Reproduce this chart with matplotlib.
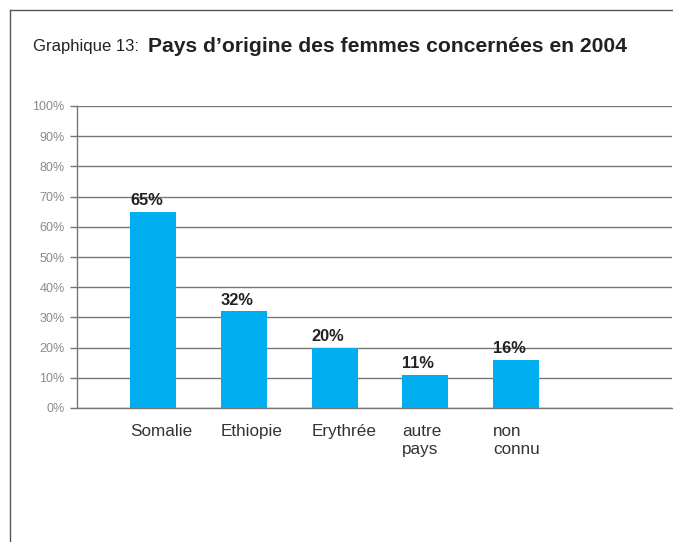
import matplotlib.pyplot as plt
from matplotlib.lines import Line2D
from matplotlib.ticker import MultipleLocator, PercentFormatter

countries = ["Somalie", "Ethiopie", "Erythrée", "autre\npays", "non\nconnu"]
shares = [65, 32, 20, 11, 16]

W, H = 673, 542
plt.rcParams['font.family'] = ['Liberation Sans', 'DejaVu Sans']

fig = plt.figure(figsize=(W / 100, H / 100), dpi=100)

# page frame: top and left rules
fig.add_artist(Line2D([10 / W, 1], [1 - 10 / H, 1 - 10 / H], color="#555555", lw=1))
fig.add_artist(Line2D([10 / W, 10 / W], [0, 1 - 10 / H], color="#555555", lw=1))

fig.text(33 / W, 1 - 47 / H, "Graphique 13:", fontsize=12, color="#222222",
         va="center", ha="left")
fig.text(148 / W, 1 - 47 / H, "Pays d’origine des femmes concernées en 2004",
         fontsize=15.2, fontweight="bold", color="#222222", va="center", ha="left")

ax = fig.add_axes([77 / W, (H - 408) / H, (672 - 77) / W, (408 - 106) / H])
x = range(len(countries))
width = 0.507
bars = ax.bar(x, shares, width=width, color="#00AEEF", zorder=3)

ax.set_xlim(-0.84, 5.72)
ax.set_ylim(0, 100)
ax.yaxis.set_major_locator(MultipleLocator(10))
ax.yaxis.set_major_formatter(PercentFormatter(decimals=0))
ax.grid(axis="y", color="#777777", lw=1, zorder=0)
ax.set_axisbelow(True)

for s in ("top", "right"):
    ax.spines[s].set_visible(False)
for s in ("left", "bottom"):
    ax.spines[s].set_color("#777777")
    ax.spines[s].set_linewidth(1)
ax.tick_params(axis="y", length=5, width=1, color="#777777", pad=4,
               labelsize=9, labelcolor="#8a8a8a")
ax.set_xticks([])

for xi, v, name in zip(x, shares, countries):
    left = xi - width / 2
    ax.annotate(f"{v}%", (left, v), xytext=(0, 2.5), textcoords="offset points",
                ha="left", va="bottom", fontsize=11.8, fontweight="bold",
                color="#222222")
    ax.annotate(name, (left, 0), xytext=(0, -11.5), textcoords="offset points",
                ha="left", va="top", fontsize=12.3, color="#333333",
                linespacing=1.25, annotation_clip=False)

fig.savefig("out.png", dpi=100)
